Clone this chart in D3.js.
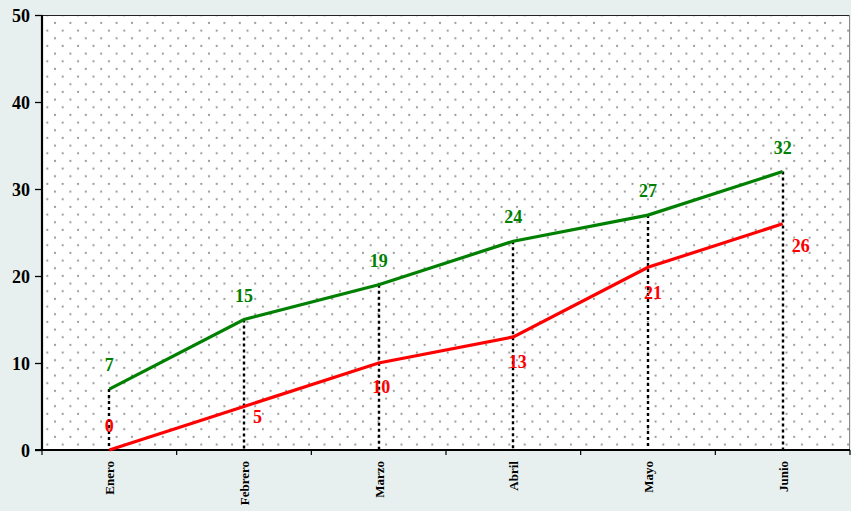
<!DOCTYPE html>
<html>
<head>
<meta charset="utf-8">
<script src="https://cdn.jsdelivr.net/npm/d3@7"></script>
<style>
  html, body { margin: 0; padding: 0; background: #e8f0ef; }
  svg { display: block; }
</style>
</head>
<body>
<script>
// ---- data ----
const categories = ["Enero", "Febrero", "Marzo", "Abril", "Mayo", "Junio"];
const greenValues = [7, 15, 19, 24, 27, 32];
const redValues = [0, 5, 10, 13, 21, 26];
const yTicks = [0, 10, 20, 30, 40, 50];

// ---- layout ----
const W = 851, H = 511;
const mLeft = 42, mRight = 850, mTop = 15, mBottom = 450;
// label offsets (layout only)
const greenLabelOffset = categories.map(() => ({dx: 0, dy: -18, anchor: "middle"}));
const redLabelOffset = [
  {dx: 0, dy: -18, anchor: "middle"},
  {dx: 9, dy: 16, anchor: "start"},
  {dx: 2.5, dy: 30, anchor: "middle"},
  {dx: 4.5, dy: 31, anchor: "middle"},
  {dx: 5, dy: 32, anchor: "middle"},
  {dx: 9, dy: 28, anchor: "start"}
];

const svg = d3.select("body").append("svg").attr("width", W).attr("height", H);

const x = d3.scaleBand().domain(categories).range([mLeft, mRight]).padding(0);
const y = d3.scaleLinear().domain([0, 50]).range([mBottom, mTop]);
const cx = d => x(d) + x.bandwidth() / 2;

// pattern
const defs = svg.append("defs");
const pw = 15.4, ph = 15.33;
const pat = defs.append("pattern").attr("id", "dots")
  .attr("patternUnits", "userSpaceOnUse")
  .attr("x", 55 - 11.55).attr("y", 23 - 11.5)
  .attr("width", pw).attr("height", ph);
pat.append("rect").attr("width", pw).attr("height", ph).attr("fill", "#ffffff");
pat.append("circle").attr("cx", 3.85).attr("cy", 3.83).attr("r", 1.1).attr("fill", "#999999");
pat.append("circle").attr("cx", 11.55).attr("cy", 11.5).attr("r", 1.1).attr("fill", "#999999");

svg.append("rect").attr("x", mLeft).attr("y", mTop)
  .attr("width", mRight - mLeft).attr("height", mBottom - mTop)
  .attr("fill", "url(#dots)");

// top & right border
svg.append("line").attr("x1", mLeft).attr("x2", mRight).attr("y1", mTop + 0.5).attr("y2", mTop + 0.5)
  .attr("stroke", "#222").attr("stroke-width", 1.2);
svg.append("line").attr("x1", mRight - 0.5).attr("x2", mRight - 0.5).attr("y1", mTop).attr("y2", mBottom)
  .attr("stroke", "#888").attr("stroke-width", 1);

// drop lines
svg.append("g").selectAll("line").data(categories).join("line")
  .attr("x1", d => Math.round(cx(d))).attr("x2", d => Math.round(cx(d)))
  .attr("y1", (d, i) => y(greenValues[i])).attr("y2", y(0))
  .attr("stroke", "#000").attr("stroke-width", 2.4).attr("stroke-dasharray", "3,3");

// y axis
const yAxis = svg.append("g").attr("transform", `translate(${mLeft},0)`)
  .call(d3.axisLeft(y).tickValues(yTicks).tickSize(7).tickPadding(5).tickFormat(d3.format("d")));
yAxis.select(".domain").attr("stroke", "#000").attr("stroke-width", 2.2).attr("d", `M0,${mTop}V${mBottom}`);
yAxis.selectAll(".tick line").attr("stroke", "#000").attr("stroke-width", 1.3);
yAxis.selectAll(".tick text")
  .attr("font-family", "'Liberation Serif', 'Times New Roman', serif")
  .attr("font-weight", "bold").attr("font-size", 18).attr("fill", "#000").attr("dy", "0.34em");

// x axis
const boundaries = categories.map(c => x(c)).concat([mRight]);
const xg = svg.append("g");
xg.append("line").attr("x1", mLeft - 7).attr("x2", mRight).attr("y1", mBottom).attr("y2", mBottom)
  .attr("stroke", "#000").attr("stroke-width", 1.8);
xg.selectAll("line.tk").data(boundaries).join("line").attr("class", "tk")
  .attr("x1", d => d).attr("x2", d => d).attr("y1", mBottom).attr("y2", mBottom + 5)
  .attr("stroke", "#000").attr("stroke-width", 1.2);
xg.selectAll("text").data(categories).join("text")
  .attr("transform", d => `translate(${cx(d) + 5},${mBottom + 11}) rotate(-90)`)
  .attr("text-anchor", "end")
  .attr("font-family", "'Liberation Serif', 'Times New Roman', serif")
  .attr("font-weight", "bold").attr("font-size", 13).attr("fill", "#000")
  .text(d => d);

// lines
const line = d3.line().x((d, i) => cx(categories[i])).y(d => y(d));
svg.append("path").datum(greenValues).attr("d", line)
  .attr("fill", "none").attr("stroke", "#008000").attr("stroke-width", 3.2).attr("stroke-linejoin", "miter");
svg.append("path").datum(redValues).attr("d", line)
  .attr("fill", "none").attr("stroke", "#ff0000").attr("stroke-width", 3.2).attr("stroke-linejoin", "miter");

// labels
const fontF = "'Liberation Serif', 'Times New Roman', serif";
svg.append("g").selectAll("text").data(greenValues).join("text")
  .attr("x", (d, i) => cx(categories[i]) + greenLabelOffset[i].dx)
  .attr("y", (d, i) => y(d) + greenLabelOffset[i].dy)
  .attr("text-anchor", (d, i) => greenLabelOffset[i].anchor)
  .attr("font-family", fontF).attr("font-weight", "bold").attr("font-size", 18)
  .attr("fill", "#008000").text(d => d);
svg.append("g").selectAll("text").data(redValues).join("text")
  .attr("x", (d, i) => cx(categories[i]) + redLabelOffset[i].dx)
  .attr("y", (d, i) => y(d) + redLabelOffset[i].dy)
  .attr("text-anchor", (d, i) => redLabelOffset[i].anchor)
  .attr("font-family", fontF).attr("font-weight", "bold").attr("font-size", 18)
  .attr("fill", "#ff0000").text(d => d);
</script>
</body>
</html>
